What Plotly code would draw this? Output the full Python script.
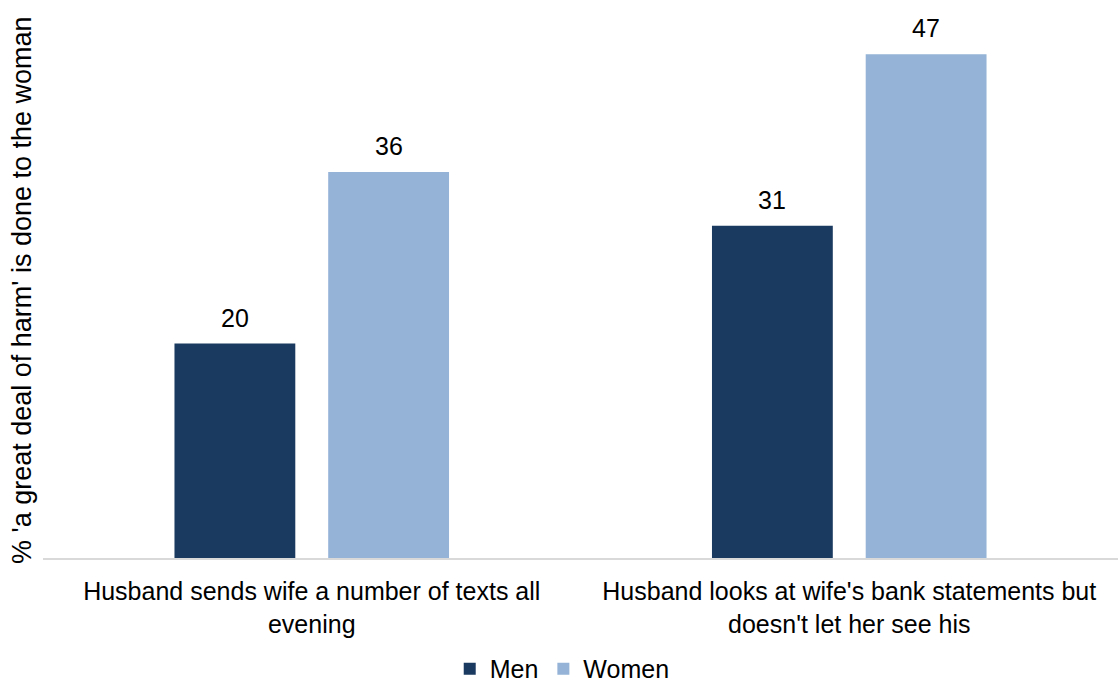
import plotly.graph_objects as go

categories = ["Husband sends wife a number of texts all<br>evening",
              "Husband looks at wife's bank statements but<br>doesn't let her see his"]
men = [20, 31]
women = [36, 47]
series_names = ["Men", "Women"]
colors = ["#1b3a60", "#95b3d7"]

FONT = "Liberation Sans, Arial, sans-serif"

fig = go.Figure()
for name, vals, col in zip(series_names, [men, women], colors):
    fig.add_trace(go.Bar(name=name, x=categories, y=vals, marker_color=col,
                         marker_line_width=0))

# data labels
for vals, shift in [(men, -77), (women, 77)]:
    for c, v in zip(categories, vals):
        fig.add_annotation(x=c, y=v, text=str(v), showarrow=False,
                           xshift=shift, yanchor="bottom", yshift=10,
                           font=dict(family=FONT, size=25, color="#000000"))

fig.add_annotation(xref="paper", yref="paper", x=0, y=0.5, xshift=-21,
                   text="% 'a great deal of harm' is done to the woman",
                   textangle=-90, showarrow=False, xanchor="center", yanchor="middle",
                   font=dict(family=FONT, size=27, color="#000000"))

fig.update_layout(
    width=1118, height=686,
    margin=dict(l=43, r=0, t=22, b=128, autoexpand=False),
    paper_bgcolor="white", plot_bgcolor="white",
    barmode="group", bargap=0.428, bargroupgap=0.214,
    font=dict(family=FONT, size=25, color="#000000"),
    showlegend=True,
    legend=dict(orientation="h", x=0.483, xanchor="center", y=-0.207, yanchor="middle",
                font=dict(family=FONT, size=25, color="#000000"),
                itemwidth=30, tracegroupgap=0),
    xaxis=dict(showline=True, linecolor="#d9d9d9", linewidth=2, ticks="",
               showgrid=False, ticklabelstandoff=10,
               tickfont=dict(family=FONT, size=25, color="#000000")),
    yaxis=dict(range=[0, 50], showticklabels=False, showgrid=False, zeroline=False,
               showline=False, ticks=""),
)

fig.write_html("out.html", config={"displayModeBar": False},
               post_script="document.body.style.margin='0';document.body.style.overflow='hidden';")
